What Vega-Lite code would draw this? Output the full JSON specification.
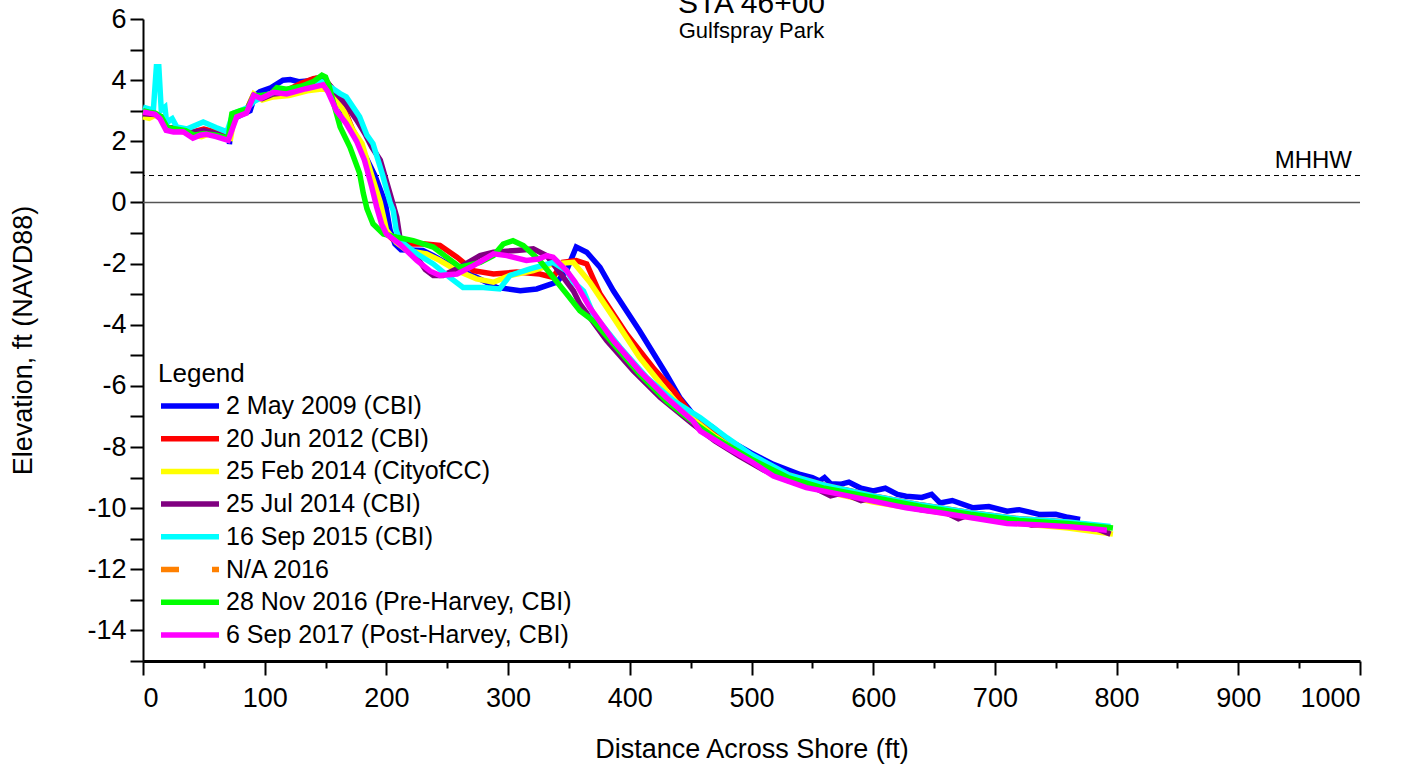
{
  "$schema": "https://vega.github.io/schema/vega-lite/v6.json",
  "width": 1217,
  "height": 642,
  "autosize": {"type": "none"},
  "padding": {"left": 143, "top": 19, "right": 50, "bottom": 112},
  "background": "white",
  "config": {
    "font": "Liberation Sans",
    "view": {"stroke": null},
    "axis": {"grid": false, "domainColor": "black", "tickColor": "black", "labelColor": "black", "titleColor": "black", "titleFontWeight": "normal", "labelFont": "Liberation Sans", "titleFont": "Liberation Sans"}
  },
  "title": {"text": "STA 46+00", "subtitle": "Gulfspray Park", "fontSize": 30, "subtitleFontSize": 22, "fontWeight": "normal", "anchor": "middle", "offset": -37, "subtitlePadding": 2, "color": "black", "subtitleColor": "black", "font": "Liberation Sans", "subtitleFont": "Liberation Sans"},
  "layer": [
    {
      "data": {"values": [{"elev": 0}]},
      "mark": {"type": "rule", "color": "#555555", "strokeWidth": 1.5},
      "encoding": {"y": {"field": "elev", "type": "quantitative", "scale": {"domain": [-15, 6], "nice": false},
          "axis": {"title": "Elevation, ft (NAVD88)", "titleFontSize": 27, "titlePadding": 49, "labelFontSize": 27, "labelPadding": 4, "labelOverlap": false, "labelBound": false, "tickCount": 40,
            "values": [-15,-14,-13,-12,-11,-10,-9,-8,-7,-6,-5,-4,-3,-2,-1,0,1,2,3,4,5,6],
            "labelExpr": "abs(datum.value % 2) < 0.5 ? replace(format(datum.value, 'd'), '\u2212', '-') : ''",
            "tickSize": 13,
            "encode": {"ticks": {"update": {"x2": {"signal": "abs(datum.value % 2) < 0.5 ? -13 : -7"}}}},
            "tickWidth": 2, "domainWidth": 2}}}
    },
    {
      "data": {"values": [{"elev": 0.88, "label": "MHHW"}]},
      "layer": [
        {"mark": {"type": "rule", "color": "black", "strokeWidth": 1, "strokeDash": [5, 4]},
         "encoding": {"y": {"field": "elev", "type": "quantitative"}}},
        {"mark": {"type": "text", "align": "right", "baseline": "bottom", "dx": -8, "dy": -3, "fontSize": 24, "color": "black"},
         "encoding": {"x": {"datum": 1000, "type": "quantitative"}, "y": {"field": "elev", "type": "quantitative"}, "text": {"field": "label"}}}
      ]
    },
    {
      "data": {"values": [
{"s":"2 May 2009 (CBI)","x":71,"y":1.9},{"s":"2 May 2009 (CBI)","x":73,"y":2.7},{"s":"2 May 2009 (CBI)","x":80,"y":2.85},{"s":"2 May 2009 (CBI)","x":88,"y":3.0},{"s":"2 May 2009 (CBI)","x":92,"y":3.5},{"s":"2 May 2009 (CBI)","x":96,"y":3.62},{"s":"2 May 2009 (CBI)","x":105,"y":3.75},{"s":"2 May 2009 (CBI)","x":115,"y":4.0},{"s":"2 May 2009 (CBI)","x":121,"y":4.02},{"s":"2 May 2009 (CBI)","x":128,"y":3.95},{"s":"2 May 2009 (CBI)","x":135,"y":3.97},{"s":"2 May 2009 (CBI)","x":142,"y":4.05},{"s":"2 May 2009 (CBI)","x":148,"y":4.05},{"s":"2 May 2009 (CBI)","x":155,"y":3.7},{"s":"2 May 2009 (CBI)","x":163,"y":3.1},{"s":"2 May 2009 (CBI)","x":170,"y":2.5},{"s":"2 May 2009 (CBI)","x":177,"y":2.0},{"s":"2 May 2009 (CBI)","x":183,"y":1.5},{"s":"2 May 2009 (CBI)","x":190.6,"y":0.88},{"s":"2 May 2009 (CBI)","x":199,"y":0.0},{"s":"2 May 2009 (CBI)","x":203,"y":-0.9},{"s":"2 May 2009 (CBI)","x":207,"y":-1.36},{"s":"2 May 2009 (CBI)","x":212,"y":-1.55},{"s":"2 May 2009 (CBI)","x":230,"y":-1.57},{"s":"2 May 2009 (CBI)","x":238.5,"y":-1.74},{"s":"2 May 2009 (CBI)","x":255,"y":-2.12},{"s":"2 May 2009 (CBI)","x":274,"y":-2.45},{"s":"2 May 2009 (CBI)","x":290.6,"y":-2.78},{"s":"2 May 2009 (CBI)","x":310,"y":-2.89},{"s":"2 May 2009 (CBI)","x":323.5,"y":-2.83},{"s":"2 May 2009 (CBI)","x":340,"y":-2.61},{"s":"2 May 2009 (CBI)","x":348,"y":-2.23},{"s":"2 May 2009 (CBI)","x":356,"y":-1.46},{"s":"2 May 2009 (CBI)","x":364.6,"y":-1.63},{"s":"2 May 2009 (CBI)","x":375.5,"y":-2.12},{"s":"2 May 2009 (CBI)","x":386.5,"y":-2.89},{"s":"2 May 2009 (CBI)","x":408,"y":-4.2},{"s":"2 May 2009 (CBI)","x":430,"y":-5.62},{"s":"2 May 2009 (CBI)","x":441,"y":-6.38},{"s":"2 May 2009 (CBI)","x":452,"y":-6.93},{"s":"2 May 2009 (CBI)","x":468.5,"y":-7.37},{"s":"2 May 2009 (CBI)","x":480,"y":-7.75},{"s":"2 May 2009 (CBI)","x":500,"y":-8.2},{"s":"2 May 2009 (CBI)","x":518,"y":-8.57},{"s":"2 May 2009 (CBI)","x":540,"y":-8.9},{"s":"2 May 2009 (CBI)","x":550,"y":-9.0},{"s":"2 May 2009 (CBI)","x":556,"y":-9.11},{"s":"2 May 2009 (CBI)","x":560,"y":-9.0},{"s":"2 May 2009 (CBI)","x":565,"y":-9.2},{"s":"2 May 2009 (CBI)","x":573,"y":-9.22},{"s":"2 May 2009 (CBI)","x":580,"y":-9.15},{"s":"2 May 2009 (CBI)","x":590,"y":-9.35},{"s":"2 May 2009 (CBI)","x":600,"y":-9.44},{"s":"2 May 2009 (CBI)","x":610,"y":-9.35},{"s":"2 May 2009 (CBI)","x":620,"y":-9.55},{"s":"2 May 2009 (CBI)","x":627,"y":-9.61},{"s":"2 May 2009 (CBI)","x":640,"y":-9.65},{"s":"2 May 2009 (CBI)","x":648,"y":-9.55},{"s":"2 May 2009 (CBI)","x":655,"y":-9.83},{"s":"2 May 2009 (CBI)","x":665,"y":-9.75},{"s":"2 May 2009 (CBI)","x":682,"y":-9.99},{"s":"2 May 2009 (CBI)","x":695,"y":-9.95},{"s":"2 May 2009 (CBI)","x":710,"y":-10.1},{"s":"2 May 2009 (CBI)","x":720,"y":-10.05},{"s":"2 May 2009 (CBI)","x":737,"y":-10.21},{"s":"2 May 2009 (CBI)","x":750,"y":-10.2},{"s":"2 May 2009 (CBI)","x":760,"y":-10.3},{"s":"2 May 2009 (CBI)","x":770,"y":-10.37},
{"s":"20 Jun 2012 (CBI)","x":0,"y":2.95},{"s":"20 Jun 2012 (CBI)","x":10,"y":2.9},{"s":"20 Jun 2012 (CBI)","x":15,"y":2.8},{"s":"20 Jun 2012 (CBI)","x":20,"y":2.45},{"s":"20 Jun 2012 (CBI)","x":30,"y":2.4},{"s":"20 Jun 2012 (CBI)","x":40,"y":2.3},{"s":"20 Jun 2012 (CBI)","x":50,"y":2.4},{"s":"20 Jun 2012 (CBI)","x":60,"y":2.3},{"s":"20 Jun 2012 (CBI)","x":70,"y":2.1},{"s":"20 Jun 2012 (CBI)","x":75,"y":2.8},{"s":"20 Jun 2012 (CBI)","x":85,"y":3.0},{"s":"20 Jun 2012 (CBI)","x":90,"y":3.45},{"s":"20 Jun 2012 (CBI)","x":97,"y":3.4},{"s":"20 Jun 2012 (CBI)","x":107,"y":3.6},{"s":"20 Jun 2012 (CBI)","x":120,"y":3.7},{"s":"20 Jun 2012 (CBI)","x":130,"y":3.9},{"s":"20 Jun 2012 (CBI)","x":140,"y":4.05},{"s":"20 Jun 2012 (CBI)","x":148,"y":4.1},{"s":"20 Jun 2012 (CBI)","x":155,"y":3.75},{"s":"20 Jun 2012 (CBI)","x":165,"y":3.1},{"s":"20 Jun 2012 (CBI)","x":172,"y":2.4},{"s":"20 Jun 2012 (CBI)","x":180,"y":1.8},{"s":"20 Jun 2012 (CBI)","x":186.5,"y":0.88},{"s":"20 Jun 2012 (CBI)","x":193.4,"y":0.0},{"s":"20 Jun 2012 (CBI)","x":197.5,"y":-0.92},{"s":"20 Jun 2012 (CBI)","x":205,"y":-1.2},{"s":"20 Jun 2012 (CBI)","x":219,"y":-1.36},{"s":"20 Jun 2012 (CBI)","x":230,"y":-1.35},{"s":"20 Jun 2012 (CBI)","x":244,"y":-1.41},{"s":"20 Jun 2012 (CBI)","x":258,"y":-1.79},{"s":"20 Jun 2012 (CBI)","x":271.5,"y":-2.23},{"s":"20 Jun 2012 (CBI)","x":288,"y":-2.34},{"s":"20 Jun 2012 (CBI)","x":307,"y":-2.28},{"s":"20 Jun 2012 (CBI)","x":326,"y":-2.34},{"s":"20 Jun 2012 (CBI)","x":337,"y":-2.45},{"s":"20 Jun 2012 (CBI)","x":345,"y":-1.96},{"s":"20 Jun 2012 (CBI)","x":356,"y":-1.9},{"s":"20 Jun 2012 (CBI)","x":364.6,"y":-2.01},{"s":"20 Jun 2012 (CBI)","x":375.5,"y":-2.99},{"s":"20 Jun 2012 (CBI)","x":397.5,"y":-4.31},{"s":"20 Jun 2012 (CBI)","x":419,"y":-5.4},{"s":"20 Jun 2012 (CBI)","x":436,"y":-6.16},{"s":"20 Jun 2012 (CBI)","x":452,"y":-7.0},{"s":"20 Jun 2012 (CBI)","x":470,"y":-7.55},{"s":"20 Jun 2012 (CBI)","x":500,"y":-8.3},{"s":"20 Jun 2012 (CBI)","x":530,"y":-8.9},{"s":"20 Jun 2012 (CBI)","x":560,"y":-9.25},{"s":"20 Jun 2012 (CBI)","x":600,"y":-9.6},{"s":"20 Jun 2012 (CBI)","x":640,"y":-9.9},{"s":"20 Jun 2012 (CBI)","x":680,"y":-10.15},{"s":"20 Jun 2012 (CBI)","x":720,"y":-10.35},{"s":"20 Jun 2012 (CBI)","x":760,"y":-10.45},{"s":"20 Jun 2012 (CBI)","x":795,"y":-10.65},
{"s":"25 Feb 2014 (CityofCC)","x":0,"y":2.8},{"s":"25 Feb 2014 (CityofCC)","x":5,"y":2.75},{"s":"25 Feb 2014 (CityofCC)","x":10,"y":2.85},{"s":"25 Feb 2014 (CityofCC)","x":15,"y":2.75},{"s":"25 Feb 2014 (CityofCC)","x":20,"y":2.4},{"s":"25 Feb 2014 (CityofCC)","x":30,"y":2.35},{"s":"25 Feb 2014 (CityofCC)","x":40,"y":2.2},{"s":"25 Feb 2014 (CityofCC)","x":48,"y":2.15},{"s":"25 Feb 2014 (CityofCC)","x":55,"y":2.25},{"s":"25 Feb 2014 (CityofCC)","x":65,"y":2.15},{"s":"25 Feb 2014 (CityofCC)","x":72,"y":2.1},{"s":"25 Feb 2014 (CityofCC)","x":75,"y":2.8},{"s":"25 Feb 2014 (CityofCC)","x":85,"y":3.0},{"s":"25 Feb 2014 (CityofCC)","x":91,"y":3.55},{"s":"25 Feb 2014 (CityofCC)","x":98,"y":3.35},{"s":"25 Feb 2014 (CityofCC)","x":107,"y":3.45},{"s":"25 Feb 2014 (CityofCC)","x":120,"y":3.5},{"s":"25 Feb 2014 (CityofCC)","x":135,"y":3.65},{"s":"25 Feb 2014 (CityofCC)","x":145,"y":3.7},{"s":"25 Feb 2014 (CityofCC)","x":150,"y":3.7},{"s":"25 Feb 2014 (CityofCC)","x":156,"y":3.5},{"s":"25 Feb 2014 (CityofCC)","x":165,"y":3.0},{"s":"25 Feb 2014 (CityofCC)","x":172,"y":2.4},{"s":"25 Feb 2014 (CityofCC)","x":180,"y":1.92},{"s":"25 Feb 2014 (CityofCC)","x":188,"y":0.88},{"s":"25 Feb 2014 (CityofCC)","x":195,"y":0.0},{"s":"25 Feb 2014 (CityofCC)","x":200,"y":-0.9},{"s":"25 Feb 2014 (CityofCC)","x":208,"y":-1.3},{"s":"25 Feb 2014 (CityofCC)","x":216.7,"y":-1.57},{"s":"25 Feb 2014 (CityofCC)","x":233,"y":-1.68},{"s":"25 Feb 2014 (CityofCC)","x":244,"y":-1.9},{"s":"25 Feb 2014 (CityofCC)","x":258,"y":-2.23},{"s":"25 Feb 2014 (CityofCC)","x":274,"y":-2.5},{"s":"25 Feb 2014 (CityofCC)","x":288,"y":-2.61},{"s":"25 Feb 2014 (CityofCC)","x":301.5,"y":-2.39},{"s":"25 Feb 2014 (CityofCC)","x":320.7,"y":-2.23},{"s":"25 Feb 2014 (CityofCC)","x":337,"y":-2.01},{"s":"25 Feb 2014 (CityofCC)","x":353.6,"y":-1.96},{"s":"25 Feb 2014 (CityofCC)","x":367,"y":-2.6},{"s":"25 Feb 2014 (CityofCC)","x":386.5,"y":-3.76},{"s":"25 Feb 2014 (CityofCC)","x":408,"y":-5.07},{"s":"25 Feb 2014 (CityofCC)","x":430,"y":-6.16},{"s":"25 Feb 2014 (CityofCC)","x":447,"y":-6.93},{"s":"25 Feb 2014 (CityofCC)","x":470,"y":-7.65},{"s":"25 Feb 2014 (CityofCC)","x":500,"y":-8.45},{"s":"25 Feb 2014 (CityofCC)","x":530,"y":-9.05},{"s":"25 Feb 2014 (CityofCC)","x":560,"y":-9.45},{"s":"25 Feb 2014 (CityofCC)","x":600,"y":-9.8},{"s":"25 Feb 2014 (CityofCC)","x":640,"y":-10.05},{"s":"25 Feb 2014 (CityofCC)","x":680,"y":-10.3},{"s":"25 Feb 2014 (CityofCC)","x":720,"y":-10.5},{"s":"25 Feb 2014 (CityofCC)","x":760,"y":-10.65},{"s":"25 Feb 2014 (CityofCC)","x":797,"y":-10.85},
{"s":"25 Jul 2014 (CBI)","x":0,"y":2.9},{"s":"25 Jul 2014 (CBI)","x":10,"y":2.88},{"s":"25 Jul 2014 (CBI)","x":15,"y":2.8},{"s":"25 Jul 2014 (CBI)","x":20,"y":2.45},{"s":"25 Jul 2014 (CBI)","x":30,"y":2.4},{"s":"25 Jul 2014 (CBI)","x":40,"y":2.3},{"s":"25 Jul 2014 (CBI)","x":50,"y":2.35},{"s":"25 Jul 2014 (CBI)","x":60,"y":2.25},{"s":"25 Jul 2014 (CBI)","x":70,"y":2.1},{"s":"25 Jul 2014 (CBI)","x":75,"y":2.8},{"s":"25 Jul 2014 (CBI)","x":85,"y":3.0},{"s":"25 Jul 2014 (CBI)","x":91,"y":3.5},{"s":"25 Jul 2014 (CBI)","x":98,"y":3.4},{"s":"25 Jul 2014 (CBI)","x":107,"y":3.55},{"s":"25 Jul 2014 (CBI)","x":120,"y":3.6},{"s":"25 Jul 2014 (CBI)","x":135,"y":3.85},{"s":"25 Jul 2014 (CBI)","x":147,"y":4.05},{"s":"25 Jul 2014 (CBI)","x":152,"y":3.9},{"s":"25 Jul 2014 (CBI)","x":159,"y":3.56},{"s":"25 Jul 2014 (CBI)","x":167,"y":3.2},{"s":"25 Jul 2014 (CBI)","x":175.6,"y":2.69},{"s":"25 Jul 2014 (CBI)","x":183,"y":2.2},{"s":"25 Jul 2014 (CBI)","x":188,"y":1.81},{"s":"25 Jul 2014 (CBI)","x":195,"y":1.38},{"s":"25 Jul 2014 (CBI)","x":203,"y":0.28},{"s":"25 Jul 2014 (CBI)","x":208.5,"y":-0.48},{"s":"25 Jul 2014 (CBI)","x":211,"y":-1.14},{"s":"25 Jul 2014 (CBI)","x":225,"y":-1.79},{"s":"25 Jul 2014 (CBI)","x":232,"y":-2.2},{"s":"25 Jul 2014 (CBI)","x":238.5,"y":-2.39},{"s":"25 Jul 2014 (CBI)","x":246.5,"y":-2.39},{"s":"25 Jul 2014 (CBI)","x":260.5,"y":-2.12},{"s":"25 Jul 2014 (CBI)","x":277,"y":-1.74},{"s":"25 Jul 2014 (CBI)","x":288,"y":-1.63},{"s":"25 Jul 2014 (CBI)","x":307,"y":-1.57},{"s":"25 Jul 2014 (CBI)","x":320.7,"y":-1.52},{"s":"25 Jul 2014 (CBI)","x":331.7,"y":-1.74},{"s":"25 Jul 2014 (CBI)","x":342.6,"y":-2.3},{"s":"25 Jul 2014 (CBI)","x":353.6,"y":-2.89},{"s":"25 Jul 2014 (CBI)","x":359,"y":-3.32},{"s":"25 Jul 2014 (CBI)","x":381,"y":-4.52},{"s":"25 Jul 2014 (CBI)","x":403,"y":-5.51},{"s":"25 Jul 2014 (CBI)","x":425,"y":-6.38},{"s":"25 Jul 2014 (CBI)","x":452,"y":-7.26},{"s":"25 Jul 2014 (CBI)","x":470,"y":-7.8},{"s":"25 Jul 2014 (CBI)","x":490,"y":-8.3},{"s":"25 Jul 2014 (CBI)","x":510,"y":-8.75},{"s":"25 Jul 2014 (CBI)","x":530,"y":-9.1},{"s":"25 Jul 2014 (CBI)","x":550,"y":-9.3},{"s":"25 Jul 2014 (CBI)","x":565,"y":-9.6},{"s":"25 Jul 2014 (CBI)","x":575,"y":-9.5},{"s":"25 Jul 2014 (CBI)","x":590,"y":-9.75},{"s":"25 Jul 2014 (CBI)","x":600,"y":-9.65},{"s":"25 Jul 2014 (CBI)","x":620,"y":-9.9},{"s":"25 Jul 2014 (CBI)","x":640,"y":-10.05},{"s":"25 Jul 2014 (CBI)","x":660,"y":-10.15},{"s":"25 Jul 2014 (CBI)","x":670,"y":-10.35},{"s":"25 Jul 2014 (CBI)","x":680,"y":-10.2},{"s":"25 Jul 2014 (CBI)","x":700,"y":-10.4},{"s":"25 Jul 2014 (CBI)","x":715,"y":-10.35},{"s":"25 Jul 2014 (CBI)","x":730,"y":-10.55},{"s":"25 Jul 2014 (CBI)","x":750,"y":-10.5},{"s":"25 Jul 2014 (CBI)","x":770,"y":-10.6},{"s":"25 Jul 2014 (CBI)","x":785,"y":-10.7},{"s":"25 Jul 2014 (CBI)","x":795,"y":-10.85},
{"s":"16 Sep 2015 (CBI)","x":0,"y":3.12},{"s":"16 Sep 2015 (CBI)","x":8.5,"y":3.02},{"s":"16 Sep 2015 (CBI)","x":11,"y":4.44},{"s":"16 Sep 2015 (CBI)","x":13,"y":4.44},{"s":"16 Sep 2015 (CBI)","x":15,"y":3.02},{"s":"16 Sep 2015 (CBI)","x":18,"y":3.12},{"s":"16 Sep 2015 (CBI)","x":19.5,"y":2.58},{"s":"16 Sep 2015 (CBI)","x":22,"y":2.69},{"s":"16 Sep 2015 (CBI)","x":24,"y":2.74},{"s":"16 Sep 2015 (CBI)","x":27.7,"y":2.47},{"s":"16 Sep 2015 (CBI)","x":36,"y":2.4},{"s":"16 Sep 2015 (CBI)","x":49.5,"y":2.63},{"s":"16 Sep 2015 (CBI)","x":60,"y":2.45},{"s":"16 Sep 2015 (CBI)","x":69,"y":2.31},{"s":"16 Sep 2015 (CBI)","x":74,"y":2.91},{"s":"16 Sep 2015 (CBI)","x":80,"y":3.0},{"s":"16 Sep 2015 (CBI)","x":86,"y":3.1},{"s":"16 Sep 2015 (CBI)","x":91,"y":3.3},{"s":"16 Sep 2015 (CBI)","x":98,"y":3.45},{"s":"16 Sep 2015 (CBI)","x":107,"y":3.6},{"s":"16 Sep 2015 (CBI)","x":120,"y":3.65},{"s":"16 Sep 2015 (CBI)","x":135,"y":3.8},{"s":"16 Sep 2015 (CBI)","x":147,"y":3.95},{"s":"16 Sep 2015 (CBI)","x":155,"y":3.75},{"s":"16 Sep 2015 (CBI)","x":162,"y":3.56},{"s":"16 Sep 2015 (CBI)","x":167,"y":3.45},{"s":"16 Sep 2015 (CBI)","x":178,"y":2.8},{"s":"16 Sep 2015 (CBI)","x":184,"y":2.2},{"s":"16 Sep 2015 (CBI)","x":189,"y":1.92},{"s":"16 Sep 2015 (CBI)","x":197,"y":0.88},{"s":"16 Sep 2015 (CBI)","x":203,"y":0.0},{"s":"16 Sep 2015 (CBI)","x":205.6,"y":-0.26},{"s":"16 Sep 2015 (CBI)","x":208,"y":-0.9},{"s":"16 Sep 2015 (CBI)","x":211,"y":-1.25},{"s":"16 Sep 2015 (CBI)","x":225,"y":-1.68},{"s":"16 Sep 2015 (CBI)","x":238.5,"y":-2.01},{"s":"16 Sep 2015 (CBI)","x":252,"y":-2.45},{"s":"16 Sep 2015 (CBI)","x":263,"y":-2.78},{"s":"16 Sep 2015 (CBI)","x":279.6,"y":-2.78},{"s":"16 Sep 2015 (CBI)","x":293,"y":-2.83},{"s":"16 Sep 2015 (CBI)","x":301.5,"y":-2.39},{"s":"16 Sep 2015 (CBI)","x":318,"y":-2.17},{"s":"16 Sep 2015 (CBI)","x":337,"y":-1.96},{"s":"16 Sep 2015 (CBI)","x":348,"y":-2.23},{"s":"16 Sep 2015 (CBI)","x":353.6,"y":-2.6},{"s":"16 Sep 2015 (CBI)","x":362,"y":-2.9},{"s":"16 Sep 2015 (CBI)","x":370,"y":-3.65},{"s":"16 Sep 2015 (CBI)","x":392,"y":-4.74},{"s":"16 Sep 2015 (CBI)","x":414,"y":-5.73},{"s":"16 Sep 2015 (CBI)","x":436,"y":-6.49},{"s":"16 Sep 2015 (CBI)","x":458,"y":-7.04},{"s":"16 Sep 2015 (CBI)","x":480,"y":-7.7},{"s":"16 Sep 2015 (CBI)","x":500,"y":-8.25},{"s":"16 Sep 2015 (CBI)","x":530,"y":-8.9},{"s":"16 Sep 2015 (CBI)","x":560,"y":-9.25},{"s":"16 Sep 2015 (CBI)","x":600,"y":-9.6},{"s":"16 Sep 2015 (CBI)","x":640,"y":-9.9},{"s":"16 Sep 2015 (CBI)","x":680,"y":-10.15},{"s":"16 Sep 2015 (CBI)","x":720,"y":-10.35},{"s":"16 Sep 2015 (CBI)","x":760,"y":-10.45},{"s":"16 Sep 2015 (CBI)","x":795,"y":-10.6},
{"s":"28 Nov 2016 (Pre-Harvey, CBI)","x":0,"y":3.0},{"s":"28 Nov 2016 (Pre-Harvey, CBI)","x":5,"y":2.95},{"s":"28 Nov 2016 (Pre-Harvey, CBI)","x":10,"y":2.92},{"s":"28 Nov 2016 (Pre-Harvey, CBI)","x":15,"y":2.8},{"s":"28 Nov 2016 (Pre-Harvey, CBI)","x":20,"y":2.45},{"s":"28 Nov 2016 (Pre-Harvey, CBI)","x":27,"y":2.4},{"s":"28 Nov 2016 (Pre-Harvey, CBI)","x":35,"y":2.35},{"s":"28 Nov 2016 (Pre-Harvey, CBI)","x":42,"y":2.2},{"s":"28 Nov 2016 (Pre-Harvey, CBI)","x":50,"y":2.25},{"s":"28 Nov 2016 (Pre-Harvey, CBI)","x":60,"y":2.2},{"s":"28 Nov 2016 (Pre-Harvey, CBI)","x":70,"y":2.1},{"s":"28 Nov 2016 (Pre-Harvey, CBI)","x":73,"y":2.9},{"s":"28 Nov 2016 (Pre-Harvey, CBI)","x":80,"y":3.0},{"s":"28 Nov 2016 (Pre-Harvey, CBI)","x":86,"y":3.05},{"s":"28 Nov 2016 (Pre-Harvey, CBI)","x":91,"y":3.5},{"s":"28 Nov 2016 (Pre-Harvey, CBI)","x":97,"y":3.5},{"s":"28 Nov 2016 (Pre-Harvey, CBI)","x":105,"y":3.55},{"s":"28 Nov 2016 (Pre-Harvey, CBI)","x":110,"y":3.75},{"s":"28 Nov 2016 (Pre-Harvey, CBI)","x":118,"y":3.7},{"s":"28 Nov 2016 (Pre-Harvey, CBI)","x":130,"y":3.8},{"s":"28 Nov 2016 (Pre-Harvey, CBI)","x":140,"y":3.95},{"s":"28 Nov 2016 (Pre-Harvey, CBI)","x":147,"y":4.16},{"s":"28 Nov 2016 (Pre-Harvey, CBI)","x":150,"y":4.1},{"s":"28 Nov 2016 (Pre-Harvey, CBI)","x":153,"y":3.8},{"s":"28 Nov 2016 (Pre-Harvey, CBI)","x":156,"y":3.34},{"s":"28 Nov 2016 (Pre-Harvey, CBI)","x":162,"y":2.47},{"s":"28 Nov 2016 (Pre-Harvey, CBI)","x":170,"y":1.81},{"s":"28 Nov 2016 (Pre-Harvey, CBI)","x":178,"y":0.95},{"s":"28 Nov 2016 (Pre-Harvey, CBI)","x":181,"y":0.3},{"s":"28 Nov 2016 (Pre-Harvey, CBI)","x":184,"y":-0.2},{"s":"28 Nov 2016 (Pre-Harvey, CBI)","x":189,"y":-0.7},{"s":"28 Nov 2016 (Pre-Harvey, CBI)","x":197.5,"y":-1.03},{"s":"28 Nov 2016 (Pre-Harvey, CBI)","x":208.5,"y":-1.14},{"s":"28 Nov 2016 (Pre-Harvey, CBI)","x":222,"y":-1.25},{"s":"28 Nov 2016 (Pre-Harvey, CBI)","x":238.5,"y":-1.46},{"s":"28 Nov 2016 (Pre-Harvey, CBI)","x":249.5,"y":-1.79},{"s":"28 Nov 2016 (Pre-Harvey, CBI)","x":260.5,"y":-2.12},{"s":"28 Nov 2016 (Pre-Harvey, CBI)","x":277,"y":-1.96},{"s":"28 Nov 2016 (Pre-Harvey, CBI)","x":288,"y":-1.74},{"s":"28 Nov 2016 (Pre-Harvey, CBI)","x":296,"y":-1.36},{"s":"28 Nov 2016 (Pre-Harvey, CBI)","x":304,"y":-1.25},{"s":"28 Nov 2016 (Pre-Harvey, CBI)","x":312.5,"y":-1.41},{"s":"28 Nov 2016 (Pre-Harvey, CBI)","x":326,"y":-1.9},{"s":"28 Nov 2016 (Pre-Harvey, CBI)","x":337,"y":-2.45},{"s":"28 Nov 2016 (Pre-Harvey, CBI)","x":348,"y":-2.99},{"s":"28 Nov 2016 (Pre-Harvey, CBI)","x":359,"y":-3.54},{"s":"28 Nov 2016 (Pre-Harvey, CBI)","x":370,"y":-3.87},{"s":"28 Nov 2016 (Pre-Harvey, CBI)","x":386.5,"y":-4.63},{"s":"28 Nov 2016 (Pre-Harvey, CBI)","x":408,"y":-5.62},{"s":"28 Nov 2016 (Pre-Harvey, CBI)","x":430,"y":-6.49},{"s":"28 Nov 2016 (Pre-Harvey, CBI)","x":447,"y":-7.04},{"s":"28 Nov 2016 (Pre-Harvey, CBI)","x":470,"y":-7.7},{"s":"28 Nov 2016 (Pre-Harvey, CBI)","x":500,"y":-8.4},{"s":"28 Nov 2016 (Pre-Harvey, CBI)","x":530,"y":-9.0},{"s":"28 Nov 2016 (Pre-Harvey, CBI)","x":560,"y":-9.35},{"s":"28 Nov 2016 (Pre-Harvey, CBI)","x":600,"y":-9.65},{"s":"28 Nov 2016 (Pre-Harvey, CBI)","x":640,"y":-9.95},{"s":"28 Nov 2016 (Pre-Harvey, CBI)","x":680,"y":-10.2},{"s":"28 Nov 2016 (Pre-Harvey, CBI)","x":720,"y":-10.4},{"s":"28 Nov 2016 (Pre-Harvey, CBI)","x":760,"y":-10.5},{"s":"28 Nov 2016 (Pre-Harvey, CBI)","x":797,"y":-10.65},
{"s":"6 Sep 2017 (Post-Harvey, CBI)","x":0,"y":2.96},{"s":"6 Sep 2017 (Post-Harvey, CBI)","x":5,"y":2.92},{"s":"6 Sep 2017 (Post-Harvey, CBI)","x":10,"y":2.88},{"s":"6 Sep 2017 (Post-Harvey, CBI)","x":14,"y":2.74},{"s":"6 Sep 2017 (Post-Harvey, CBI)","x":19,"y":2.36},{"s":"6 Sep 2017 (Post-Harvey, CBI)","x":25,"y":2.3},{"s":"6 Sep 2017 (Post-Harvey, CBI)","x":33,"y":2.31},{"s":"6 Sep 2017 (Post-Harvey, CBI)","x":41,"y":2.1},{"s":"6 Sep 2017 (Post-Harvey, CBI)","x":47,"y":2.2},{"s":"6 Sep 2017 (Post-Harvey, CBI)","x":52,"y":2.23},{"s":"6 Sep 2017 (Post-Harvey, CBI)","x":60,"y":2.15},{"s":"6 Sep 2017 (Post-Harvey, CBI)","x":70,"y":2.03},{"s":"6 Sep 2017 (Post-Harvey, CBI)","x":77,"y":2.8},{"s":"6 Sep 2017 (Post-Harvey, CBI)","x":85,"y":2.92},{"s":"6 Sep 2017 (Post-Harvey, CBI)","x":91,"y":3.5},{"s":"6 Sep 2017 (Post-Harvey, CBI)","x":97,"y":3.4},{"s":"6 Sep 2017 (Post-Harvey, CBI)","x":107,"y":3.6},{"s":"6 Sep 2017 (Post-Harvey, CBI)","x":118,"y":3.55},{"s":"6 Sep 2017 (Post-Harvey, CBI)","x":134,"y":3.72},{"s":"6 Sep 2017 (Post-Harvey, CBI)","x":148,"y":3.85},{"s":"6 Sep 2017 (Post-Harvey, CBI)","x":152,"y":3.62},{"s":"6 Sep 2017 (Post-Harvey, CBI)","x":159,"y":3.0},{"s":"6 Sep 2017 (Post-Harvey, CBI)","x":167,"y":2.58},{"s":"6 Sep 2017 (Post-Harvey, CBI)","x":175.5,"y":2.0},{"s":"6 Sep 2017 (Post-Harvey, CBI)","x":182,"y":1.38},{"s":"6 Sep 2017 (Post-Harvey, CBI)","x":188,"y":0.5},{"s":"6 Sep 2017 (Post-Harvey, CBI)","x":192,"y":-0.15},{"s":"6 Sep 2017 (Post-Harvey, CBI)","x":196,"y":-0.7},{"s":"6 Sep 2017 (Post-Harvey, CBI)","x":200,"y":-1.03},{"s":"6 Sep 2017 (Post-Harvey, CBI)","x":211,"y":-1.36},{"s":"6 Sep 2017 (Post-Harvey, CBI)","x":225,"y":-1.9},{"s":"6 Sep 2017 (Post-Harvey, CBI)","x":236,"y":-2.25},{"s":"6 Sep 2017 (Post-Harvey, CBI)","x":244,"y":-2.39},{"s":"6 Sep 2017 (Post-Harvey, CBI)","x":258,"y":-2.34},{"s":"6 Sep 2017 (Post-Harvey, CBI)","x":271.5,"y":-2.07},{"s":"6 Sep 2017 (Post-Harvey, CBI)","x":288,"y":-1.68},{"s":"6 Sep 2017 (Post-Harvey, CBI)","x":299,"y":-1.74},{"s":"6 Sep 2017 (Post-Harvey, CBI)","x":315,"y":-1.9},{"s":"6 Sep 2017 (Post-Harvey, CBI)","x":325,"y":-1.85},{"s":"6 Sep 2017 (Post-Harvey, CBI)","x":331.7,"y":-1.74},{"s":"6 Sep 2017 (Post-Harvey, CBI)","x":337,"y":-1.79},{"s":"6 Sep 2017 (Post-Harvey, CBI)","x":348,"y":-2.23},{"s":"6 Sep 2017 (Post-Harvey, CBI)","x":355,"y":-2.6},{"s":"6 Sep 2017 (Post-Harvey, CBI)","x":367,"y":-3.43},{"s":"6 Sep 2017 (Post-Harvey, CBI)","x":386.5,"y":-4.52},{"s":"6 Sep 2017 (Post-Harvey, CBI)","x":408,"y":-5.51},{"s":"6 Sep 2017 (Post-Harvey, CBI)","x":430,"y":-6.38},{"s":"6 Sep 2017 (Post-Harvey, CBI)","x":452,"y":-7.15},{"s":"6 Sep 2017 (Post-Harvey, CBI)","x":458,"y":-7.48},{"s":"6 Sep 2017 (Post-Harvey, CBI)","x":480,"y":-8.02},{"s":"6 Sep 2017 (Post-Harvey, CBI)","x":499,"y":-8.46},{"s":"6 Sep 2017 (Post-Harvey, CBI)","x":518,"y":-8.95},{"s":"6 Sep 2017 (Post-Harvey, CBI)","x":545,"y":-9.33},{"s":"6 Sep 2017 (Post-Harvey, CBI)","x":573,"y":-9.55},{"s":"6 Sep 2017 (Post-Harvey, CBI)","x":600,"y":-9.77},{"s":"6 Sep 2017 (Post-Harvey, CBI)","x":627,"y":-9.99},{"s":"6 Sep 2017 (Post-Harvey, CBI)","x":655,"y":-10.15},{"s":"6 Sep 2017 (Post-Harvey, CBI)","x":682,"y":-10.32},{"s":"6 Sep 2017 (Post-Harvey, CBI)","x":710,"y":-10.5},{"s":"6 Sep 2017 (Post-Harvey, CBI)","x":737,"y":-10.55},{"s":"6 Sep 2017 (Post-Harvey, CBI)","x":764,"y":-10.62},{"s":"6 Sep 2017 (Post-Harvey, CBI)","x":792,"y":-10.72}
      ]},
      "mark": {"type": "line", "strokeWidth": 5.5},
      "encoding": {
        "x": {"field": "x", "type": "quantitative", "scale": {"domain": [0, 1000], "nice": false},
          "axis": {"title": "Distance Across Shore (ft)", "titleFontSize": 27, "titlePadding": 25, "labelFontSize": 27, "labelPadding": 10, "format": "d", "tickCount": 40,
            "values": [0,50,100,150,200,250,300,350,400,450,500,550,600,650,700,750,800,850,900,950,1000],
            "labelExpr": "datum.value % 100 === 0 ? datum.label : ''",
            "tickSize": {"condition": {"test": "datum.value % 100 === 0", "value": 14}, "value": 7},
            "tickWidth": 2, "domainWidth": 3}},
        "y": {"field": "y", "type": "quantitative"},
        "color": {"field": "s", "type": "nominal",
          "scale": {"domain": ["2 May 2009 (CBI)", "20 Jun 2012 (CBI)", "25 Feb 2014 (CityofCC)", "25 Jul 2014 (CBI)", "16 Sep 2015 (CBI)", "N/A 2016", "28 Nov 2016 (Pre-Harvey, CBI)", "6 Sep 2017 (Post-Harvey, CBI)"],
            "range": ["#0000ff", "#ff0000", "#ffff00", "#800080", "#00ffff", "#ff8000", "#00ff00", "#ff00ff"]},
          "legend": {"orient": "none", "legendX": 15, "legendY": 342, "title": "Legend", "titleFontSize": 26, "titleFontWeight": "normal", "titleColor": "black", "titlePadding": 0,
            "labelFontSize": 25, "labelColor": "black", "labelLimit": 0, "labelOffset": 30,
            "symbolType": "M-1,0H2.625", "symbolSize": 1024, "symbolStrokeWidth": 5.5, "rowPadding": 0.7, "padding": 0,
            "encode": {"symbols": {"update": {"strokeDash": {"signal": "datum.value === 'N/A 2016' ? [18,33] : [1,0]"}}}}}}
      }
    }
  ]
}
